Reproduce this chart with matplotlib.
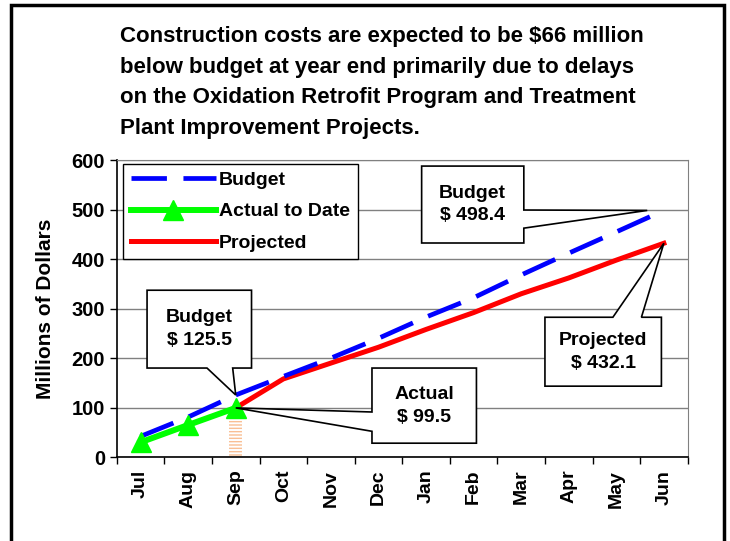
import matplotlib.pyplot as plt
from matplotlib.patches import Polygon, Rectangle

months = ['Jul', 'Aug', 'Sep', 'Oct', 'Nov', 'Dec', 'Jan', 'Feb', 'Mar', 'Apr', 'May', 'Jun']
budget = [42, 81, 125.5, 163, 200, 240, 283, 322, 368, 412, 455, 498.4]
actual = [30, 65, 99.5]
projected = [99.5, 158, 190, 222, 258, 292, 330, 362, 398, 432.1]
yticks = [0, 100, 200, 300, 400, 500, 600]

title = ("Construction costs are expected to be $66 million\n"
         "below budget at year end primarily due to delays\n"
         "on the Oxidation Retrofit Program and Treatment\n"
         "Plant Improvement Projects.")

plt.rcParams['font.family'] = ['Liberation Sans', 'DejaVu Sans']
plt.rcParams['font.weight'] = 'bold'

fig = plt.figure(figsize=(7.3, 5.41), dpi=100)
ax = fig.add_axes([0.160, 0.155, 0.782, 0.549])

x = list(range(len(months)))
xa = x[:len(actual)]
xp = x[len(actual) - 1:]

# hatched bar under the current month
ax.bar(xa[-1], actual[-1], width=0.28, facecolor='none', edgecolor='#f9bf94',
       hatch='-----', linewidth=0, zorder=2)

ax.plot(x, budget, color='#0000ff', lw=3.4, linestyle=(0, (7.5, 3.5)),
        solid_capstyle='butt', label='Budget', zorder=4)
ax.plot(xa, actual, color='#00ff00', lw=4.3, marker='^', markersize=15,
        label='Actual to Date', zorder=5)
ax.plot(xp, projected, color='#ff0000', lw=3.6, label='Projected', zorder=3)

ax.set_xlim(-0.5, len(months) - 0.5)
ax.set_ylim(0, 600)
ax.set_yticks(yticks)
ax.set_xticks(x)
ax.set_xticklabels(months, rotation=90, fontsize=14, fontweight='bold')
ax.set_xticks([i - 0.5 for i in range(len(months) + 1)], minor=True)
ax.tick_params(axis='x', which='major', length=0, pad=9)
ax.tick_params(axis='x', which='minor', length=5, width=1, direction='out')
ax.tick_params(axis='y', length=5, width=1, labelsize=14.5)
for lab in ax.get_yticklabels():
    lab.set_fontweight('bold')
ax.yaxis.grid(True, color='#808080', lw=1)
ax.set_axisbelow(True)
for s in ['top', 'right']:
    ax.spines[s].set_color('#808080')
ax.spines['left'].set_linewidth(1.2)
ax.spines['bottom'].set_linewidth(1.2)
ax.set_ylabel('Millions of Dollars', fontsize=15, fontweight='bold', labelpad=12)

leg = ax.legend(loc='upper left', bbox_to_anchor=(0.0105, 0.988), fontsize=14,
                handlelength=4.4, handletextpad=0.15, borderpad=0.4,
                labelspacing=0.7, fancybox=False, edgecolor='black',
                framealpha=1, borderaxespad=0)
leg.get_frame().set_linewidth(1)

fig.text(0.165, 0.952, title, fontsize=16, fontweight='bold', va='top',
         ha='left', linespacing=1.6)


def callout(text, box, base, side, xi, yi):
    # box and base in axes fraction, tip taken from the data point
    tx, ty = ax.transAxes.inverted().transform(ax.transData.transform((xi, yi)))
    x0, x1, y0, y1 = box
    b0, b1 = base
    if side == 'bottom':
        pts = [(x0, y0), (b0, y0), (tx, ty), (b1, y0), (x1, y0), (x1, y1), (x0, y1)]
    elif side == 'top':
        pts = [(x0, y0), (x1, y0), (x1, y1), (b1, y1), (tx, ty), (b0, y1), (x0, y1)]
    elif side == 'left':
        pts = [(x0, y0), (x1, y0), (x1, y1), (x0, y1), (x0, b1), (tx, ty), (x0, b0)]
    else:
        pts = [(x0, y0), (x1, y0), (x1, b0), (tx, ty), (x1, b1), (x1, y1), (x0, y1)]
    ax.add_patch(Polygon(pts, closed=True, transform=ax.transAxes, facecolor='white',
                         edgecolor='black', lw=1.2, clip_on=False, zorder=6))
    ax.text((x0 + x1) / 2, (y0 + y1) / 2, text, transform=ax.transAxes, ha='center',
            va='center', fontsize=14, fontweight='bold', linespacing=1.45, zorder=7)


callout('Budget\n$ 125.5', (0.053, 0.236, 0.300, 0.562), (0.158, 0.203), 'bottom',
        x[2], budget[2])
callout('Actual\n$ 99.5', (0.447, 0.630, 0.047, 0.300), (0.087, 0.152), 'left',
        xa[-1], actual[-1])
callout('Budget\n$ 498.4', (0.534, 0.713, 0.721, 0.980), (0.771, 0.832), 'right',
        x[-1] - 0.35, budget[-1])
callout('Projected\n$ 432.1', (0.750, 0.954, 0.239, 0.471), (0.869, 0.919), 'top',
        x[-1], projected[-1])

# outer frame
fig.patches.append(Rectangle((0.015, -0.05), 0.977, 1.04, transform=fig.transFigure,
                             fill=False, edgecolor='black', lw=2.5, clip_on=False))

fig.savefig('out.png', dpi=100)
